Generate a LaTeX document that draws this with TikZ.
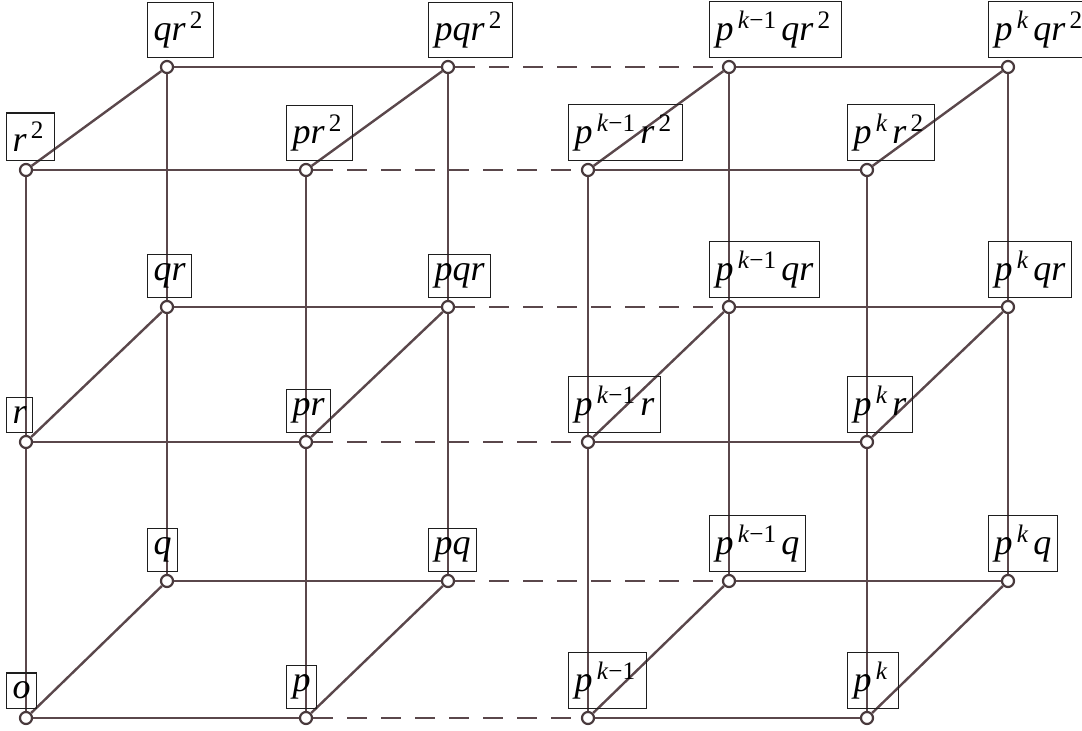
\documentclass[tikz,border=0pt]{standalone}
\usepackage{fontspec}
\setmainfont{Liberation Serif}
\usetikzlibrary{positioning}
\definecolor{cEdge}{HTML}{5A474B}
\definecolor{cBox}{HTML}{1E1E1E}
\tikzset{
  vtx/.style={circle, draw=cEdge!80!black, line width=1.1pt, fill=white,
              minimum size=6pt, inner sep=0pt},
  lbl/.style={draw=cBox, line width=0.7pt, anchor=south west, xshift=-10pt, yshift=4.5pt,
              inner xsep=3pt, inner ysep=4.5pt, font=\fontsize{18}{20}\selectfont\itshape},
  edge/.style={draw=cEdge, line width=1.2pt},
  gap/.style={draw=cEdge, line width=1.3pt, dash pattern=on 10pt off 7pt},
}
\newcommand{\ex}[1]{\textsuperscript{\,#1\,}}

\begin{document}
\begin{tikzpicture}[x=0.5pt, y=-0.5pt]
    \useasboundingbox (0,0) rectangle (1082,731);

    % front layer
    \node[vtx] (o)     at (26,718)  {};
    \node[vtx] (p)     at (306,718) {};
    \node[vtx] (pk1)   at (588,718) {};
    \node[vtx] (pk)    at (867,718) {};
    \node[vtx] (r)     at (26,442)  {};
    \node[vtx] (pr)    at (306,442) {};
    \node[vtx] (pk1r)  at (588,442) {};
    \node[vtx] (pkr)   at (867,442) {};
    \node[vtx] (r2)    at (26,170)  {};
    \node[vtx] (pr2)   at (306,170) {};
    \node[vtx] (pk1r2) at (588,170) {};
    \node[vtx] (pkr2)  at (867,170) {};
    % back layer
    \node[vtx] (q)      at (167,581)  {};
    \node[vtx] (pq)     at (448,581)  {};
    \node[vtx] (pk1q)   at (729,581)  {};
    \node[vtx] (pkq)    at (1008,581) {};
    \node[vtx] (qr)     at (167,307)  {};
    \node[vtx] (pqr)    at (448,307)  {};
    \node[vtx] (pk1qr)  at (729,307)  {};
    \node[vtx] (pkqr)   at (1008,307) {};
    \node[vtx] (qr2)    at (167,67)   {};
    \node[vtx] (pqr2)   at (448,67)   {};
    \node[vtx] (pk1qr2) at (729,67)   {};
    \node[vtx] (pkqr2)  at (1008,67)  {};

    % rows
    \draw[edge] (o) -- (p) (pk1) -- (pk) (r) -- (pr) (pk1r) -- (pkr)
      (r2) -- (pr2) (pk1r2) -- (pkr2) (q) -- (pq) (pk1q) -- (pkq)
      (qr) -- (pqr) (pk1qr) -- (pkqr) (qr2) -- (pqr2) (pk1qr2) -- (pkqr2);
    \draw[gap] (p) -- (pk1) (pr) -- (pk1r) (pr2) -- (pk1r2)
      (pq) -- (pk1q) (pqr) -- (pk1qr) (pqr2) -- (pk1qr2);
    % columns
    \draw[edge] (o) -- (r) -- (r2) (p) -- (pr) -- (pr2)
      (pk1) -- (pk1r) -- (pk1r2) (pk) -- (pkr) -- (pkr2)
      (q) -- (qr) -- (qr2) (pq) -- (pqr) -- (pqr2)
      (pk1q) -- (pk1qr) -- (pk1qr2) (pkq) -- (pkqr) -- (pkqr2);
    % depth
    \draw[edge] (o) -- (q) (p) -- (pq) (pk1) -- (pk1q) (pk) -- (pkq)
      (r) -- (qr) (pr) -- (pqr) (pk1r) -- (pk1qr) (pkr) -- (pkqr)
      (r2) -- (qr2) (pr2) -- (pqr2) (pk1r2) -- (pk1qr2) (pkr2) -- (pkqr2);

    % labels
    \node[lbl] (Lo)     at (o)      {o};
    \node[lbl] (Lp)     at (p)      {p};
    \node[lbl] (Lpk1)   at (pk1)    {p\ex{k\textup{−1}}};
    \node[lbl] (Lpk)    at (pk)     {p\ex{k}};
    \node[lbl] (Lr)     at (r)      {r};
    \node[lbl] (Lpr)    at (pr)     {pr};
    \node[lbl] (Lpk1r)  at (pk1r)   {p\ex{k\textup{−1}}r};
    \node[lbl] (Lpkr)   at (pkr)    {p\ex{k}r};
    \node[lbl] (Lr2)    at (r2)     {r\ex{\textup{2}}};
    \node[lbl] (Lpr2)   at (pr2)    {pr\ex{\textup{2}}};
    \node[lbl] (Lpk1r2) at (pk1r2)  {p\ex{k\textup{−1}}r\ex{\textup{2}}};
    \node[lbl] (Lpkr2)  at (pkr2)   {p\ex{k}r\ex{\textup{2}}};
    \node[lbl] (Lq)     at (q)      {q};
    \node[lbl] (Lpq)    at (pq)     {pq};
    \node[lbl] (Lpk1q)  at (pk1q)   {p\ex{k\textup{−1}}q};
    \node[lbl] (Lpkq)   at (pkq)    {p\ex{k}q};
    \node[lbl] (Lqr)    at (qr)     {qr};
    \node[lbl] (Lpqr)   at (pqr)    {pqr};
    \node[lbl] (Lpk1qr) at (pk1qr)  {p\ex{k\textup{−1}}qr};
    \node[lbl] (Lpkqr)  at (pkqr)   {p\ex{k}qr};
    \node[lbl] (Lqr2)   at (qr2)    {qr\ex{\textup{2}}};
    \node[lbl] (Lpqr2)  at (pqr2)   {pqr\ex{\textup{2}}};
    \node[lbl] (Lpk1qr2) at (pk1qr2) {p\ex{k\textup{−1}}qr\ex{\textup{2}}};
    \node[lbl] (Lpkqr2) at (pkqr2)  {p\ex{k}qr\ex{\textup{2}}};
\end{tikzpicture}
\end{document}
